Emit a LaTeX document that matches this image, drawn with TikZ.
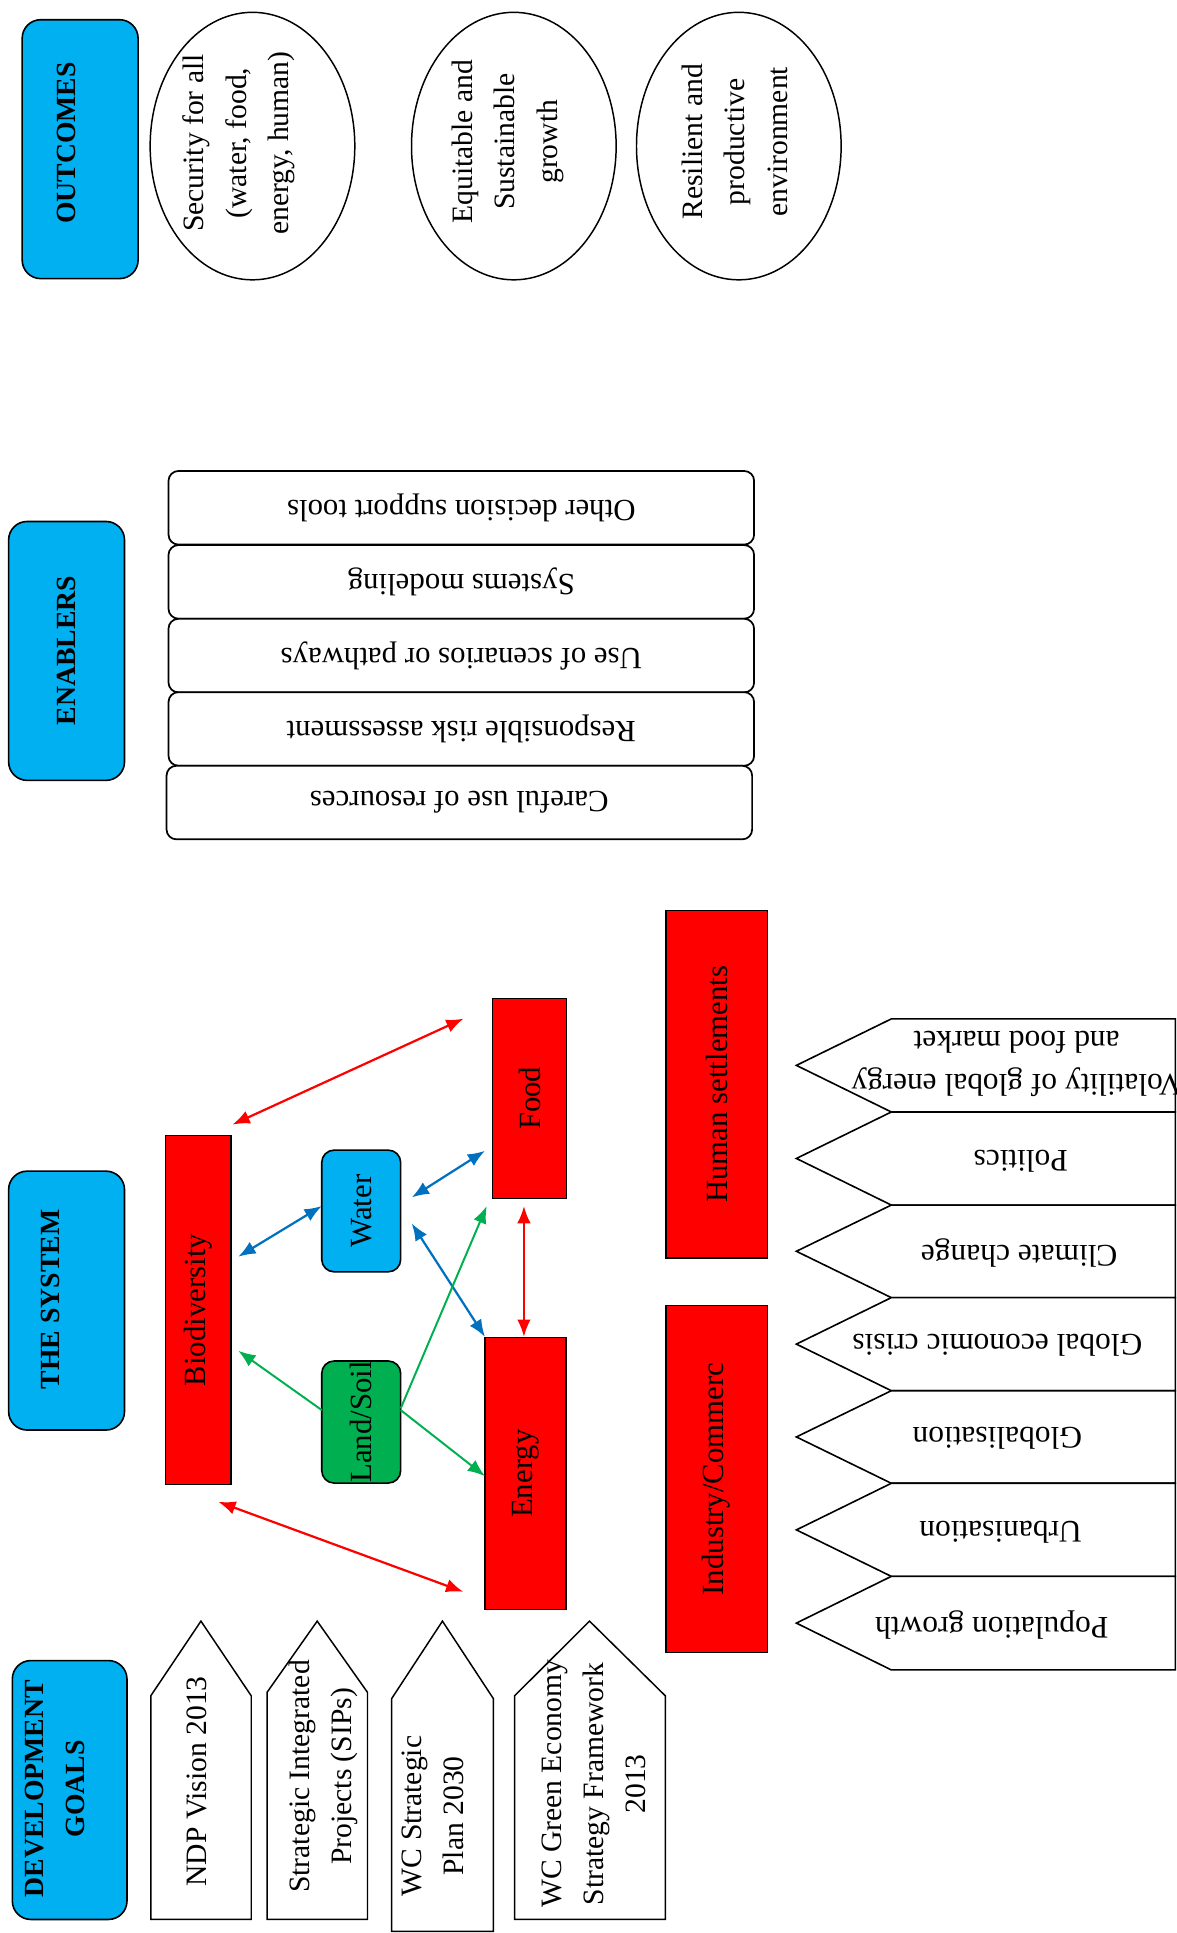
\documentclass[tikz,border=0pt]{standalone}
\usepackage{fontspec}
\setmainfont{Liberation Serif}
\usetikzlibrary{shapes.geometric,arrows.meta}
\definecolor{capblue}{HTML}{00B0F0}
\definecolor{boxred}{HTML}{FF0000}
\definecolor{landgreen}{HTML}{00B050}
\definecolor{arrblue}{HTML}{0070C0}
\definecolor{arrgreen}{HTML}{00B050}
\definecolor{arrred}{HTML}{FF0000}
\begin{document}
\begin{tikzpicture}[x=1pt,y=-1pt,
  capbox/.style={draw=black,line width=1.3pt,fill=capblue,rounded corners=15pt,rotate=90,inner sep=0pt,minimum height=94pt,minimum width=210pt},
  captxt/.style={rotate=90,align=center,font=\fontsize{22.5}{33.5}\selectfont\bfseries},
  oval/.style={draw=black,line width=1.2pt,ellipse,inner sep=0pt,minimum width=166pt,minimum height=217pt},
  ovaltxt/.style={rotate=90,align=center,font=\fontsize{24}{34.5}\selectfont},
  enab/.style={draw=black,line width=1.4pt,fill=white,rounded corners=8pt,rotate=180,minimum width=475pt,minimum height=59.7pt,inner sep=0pt,font=\fontsize{25}{34}\selectfont},
  redbox/.style={draw=black,line width=1pt,fill=boxred,rotate=90,inner sep=0pt,font=\fontsize{25}{34}\selectfont},
  softbox/.style={draw=black,line width=1.3pt,rounded corners=10pt,rotate=90,inner sep=0pt,font=\fontsize{25}{34}\selectfont},
  goal/.style={draw=black,line width=1.2pt,fill=white},
  goaltxt/.style={rotate=90,align=center,font=\fontsize{24}{34}\selectfont},
  driver/.style={draw=black,line width=1.3pt,fill=white},
  drivertxt/.style={rotate=180,align=center,font=\fontsize{25.5}{35}\selectfont},
  dbl/.style={line width=1.8pt,{Latex[length=14pt,width=11pt]}-{Latex[length=14pt,width=11pt]}},
  sgl/.style={line width=1.6pt,-{Latex[length=14pt,width=11pt]}},
]
\clip (0,0) rectangle (954,1568);
\fill[white] (0,0) rectangle (954,1568);

% ---------- caption boxes ----------
\node[capbox] (capout) at (65,121) {};
\node[captxt] (capoutt) at (54,116) {OUTCOMES};
\node[capbox] (capen) at (54,528) {};
\node[captxt] (capent) at (54,527.7) {ENABLERS};
\node[capbox] (capsys) at (54,1055) {};
\node[captxt] (capsyst) at (41,1054) {THE SYSTEM};
\node[capbox,minimum height=93pt] (capdev) at (56.5,1452) {};
\node[captxt] (capdevt) at (44.7,1451) {DEVELOPMENT\\GOALS};

% ---------- outcomes ----------
\node[oval] (o1) at (204.8,118.5) {};
\node[ovaltxt] (o1t) at (194,116) {Security for all\\(water, food,\\energy, human)};
\node[oval] (o2) at (416.8,118.5) {};
\node[ovaltxt] (o2t) at (412,115) {Equitable and\\Sustainable\\growth};
\node[oval] (o3) at (599.3,118.5) {};
\node[ovaltxt] (o3t) at (596,115) {Resilient and\\productive\\environment};

% ---------- enablers ----------
\node[enab] (en1) at (374.2,411.9) {Other decision support tools};
\node[enab] (en2) at (374.2,472) {Systems modeling};
\node[enab] (en3) at (374.2,531.8) {Use of scenarios or pathways};
\node[enab] (en4) at (374.2,591.3) {Responsible risk assessment};
\node[enab] (en5) at (372.6,651) {Careful use of resources};

% ---------- the system ----------
\node[redbox,minimum width=282.6pt,minimum height=53pt] (bio) at (160.9,1062.6) {Biodiversity};
\node[softbox,fill=capblue,minimum width=98.7pt,minimum height=64pt] (water) at (293,982.3) {Water};
\node[softbox,fill=landgreen,minimum width=99pt,minimum height=64pt] (land) at (293,1153.5) {Land/Soil};
\node[redbox,minimum width=162.2pt,minimum height=59.5pt] (food) at (429.5,890.9) {Food};
\node[redbox,minimum width=220.9pt,minimum height=65.8pt] (energy) at (426.3,1195.4) {Energy};
\node[redbox,minimum width=281.8pt,minimum height=82pt] (human) at (581.3,879.5) {Human settlements};
\node[redbox,minimum width=281.9pt,minimum height=82pt] (industry) at (581.3,1199.7) {Industry/Commerc};

% arrow end points
\coordinate (rtA) at (188.6,912.2);
\coordinate (rtB) at (376,826.3);
\coordinate (rbA) at (177.1,1218.2);
\coordinate (rbB) at (375.8,1291.2);
\coordinate (feA) at (425,978.3);
\coordinate (feB) at (425,1084.4);
\coordinate (bwA) at (193.3,1019.4);
\coordinate (bwB) at (261,978.3);
\coordinate (wfA) at (334,971.3);
\coordinate (wfB) at (393.4,933.5);
\coordinate (weA) at (334,992.4);
\coordinate (weB) at (393.4,1084.4);
\coordinate (g1A) at (261,1143.8);
\coordinate (g1B) at (193.3,1095.7);
\coordinate (g2A) at (325,1142.5);
\coordinate (g2B) at (394.8,978.3);
\coordinate (g3A) at (325,1143.8);
\coordinate (g3B) at (393.4,1197.4);

\draw[dbl,arrred] (rtA) -- (rtB);
\draw[dbl,arrred] (rbA) -- (rbB);
\draw[dbl,arrred] (feA) -- (feB);
\draw[dbl,arrblue] (bwA) -- (bwB);
\draw[dbl,arrblue] (wfA) -- (wfB);
\draw[dbl,arrblue] (weA) -- (weB);
\draw[sgl,arrgreen] (g1A) -- (g1B);
\draw[sgl,arrgreen] (g2A) -- (g2B);
\draw[sgl,arrgreen] (g3A) -- (g3B);

% ---------- drivers ----------
\draw[driver] (953.5,826.5) -- (723,826.5) -- (646,864.2) -- (723,902) -- (953.5,902) -- cycle;
\draw[driver] (953.5,902) -- (723,902) -- (646,939.7) -- (723,977.5) -- (953.5,977.5) -- cycle;
\draw[driver] (953.5,977.5) -- (723,977.5) -- (646,1015) -- (723,1052.6) -- (953.5,1052.6) -- cycle;
\draw[driver] (953.5,1052.6) -- (723,1052.6) -- (646,1090.3) -- (723,1128.1) -- (953.5,1128.1) -- cycle;
\draw[driver] (953.5,1128.1) -- (723,1128.1) -- (646,1165.6) -- (723,1203.2) -- (953.5,1203.2) -- cycle;
\draw[driver] (953.5,1203.2) -- (723,1203.2) -- (646,1241) -- (723,1278.7) -- (953.5,1278.7) -- cycle;
\draw[driver] (953.5,1278.7) -- (723,1278.7) -- (646,1316.6) -- (723,1354.6) -- (953.5,1354.6) -- cycle;
\node[drivertxt] (d1) at (824.7,863) {Volatility of global energy\\and food market};
\node[drivertxt] (d2) at (828,942) {Politics};
\node[drivertxt] (d3) at (826.8,1016) {Climate change};
\node[drivertxt] (d4) at (809,1091) {Global economic crisis};
\node[drivertxt] (d5) at (809,1167) {Globalisation};
\node[drivertxt] (d6) at (811.6,1243) {Urbanisation};
\node[drivertxt] (d7) at (804.5,1318) {Population growth};

% ---------- development goals ----------
\draw[goal] (122.3,1557) -- (122.3,1375.6) -- (163,1315) -- (203.8,1375.6) -- (203.8,1557) -- cycle;
\draw[goal] (216.6,1557) -- (216.6,1372.8) -- (257.3,1315) -- (298.1,1372.8) -- (298.1,1557) -- cycle;
\draw[goal] (317.6,1566.7) -- (317.6,1378) -- (358.9,1315) -- (400.3,1378) -- (400.3,1566.7) -- cycle;
\draw[goal] (417.4,1557) -- (417.4,1375.6) -- (478.2,1315) -- (539.7,1375.6) -- (539.7,1557) -- cycle;
\node[goaltxt] (g1) at (159.4,1445) {NDP Vision 2013};
\node[goaltxt] (g2) at (262.5,1441) {Strategic Integrated\\Projects (SIPs)};
\node[goaltxt] (g3) at (351.4,1473) {WC Strategic\\Plan 2030};
\node[goaltxt] (g4) at (482,1447) {WC Green Economy\\Strategy Framework\\2013};
\end{tikzpicture}
\end{document}
